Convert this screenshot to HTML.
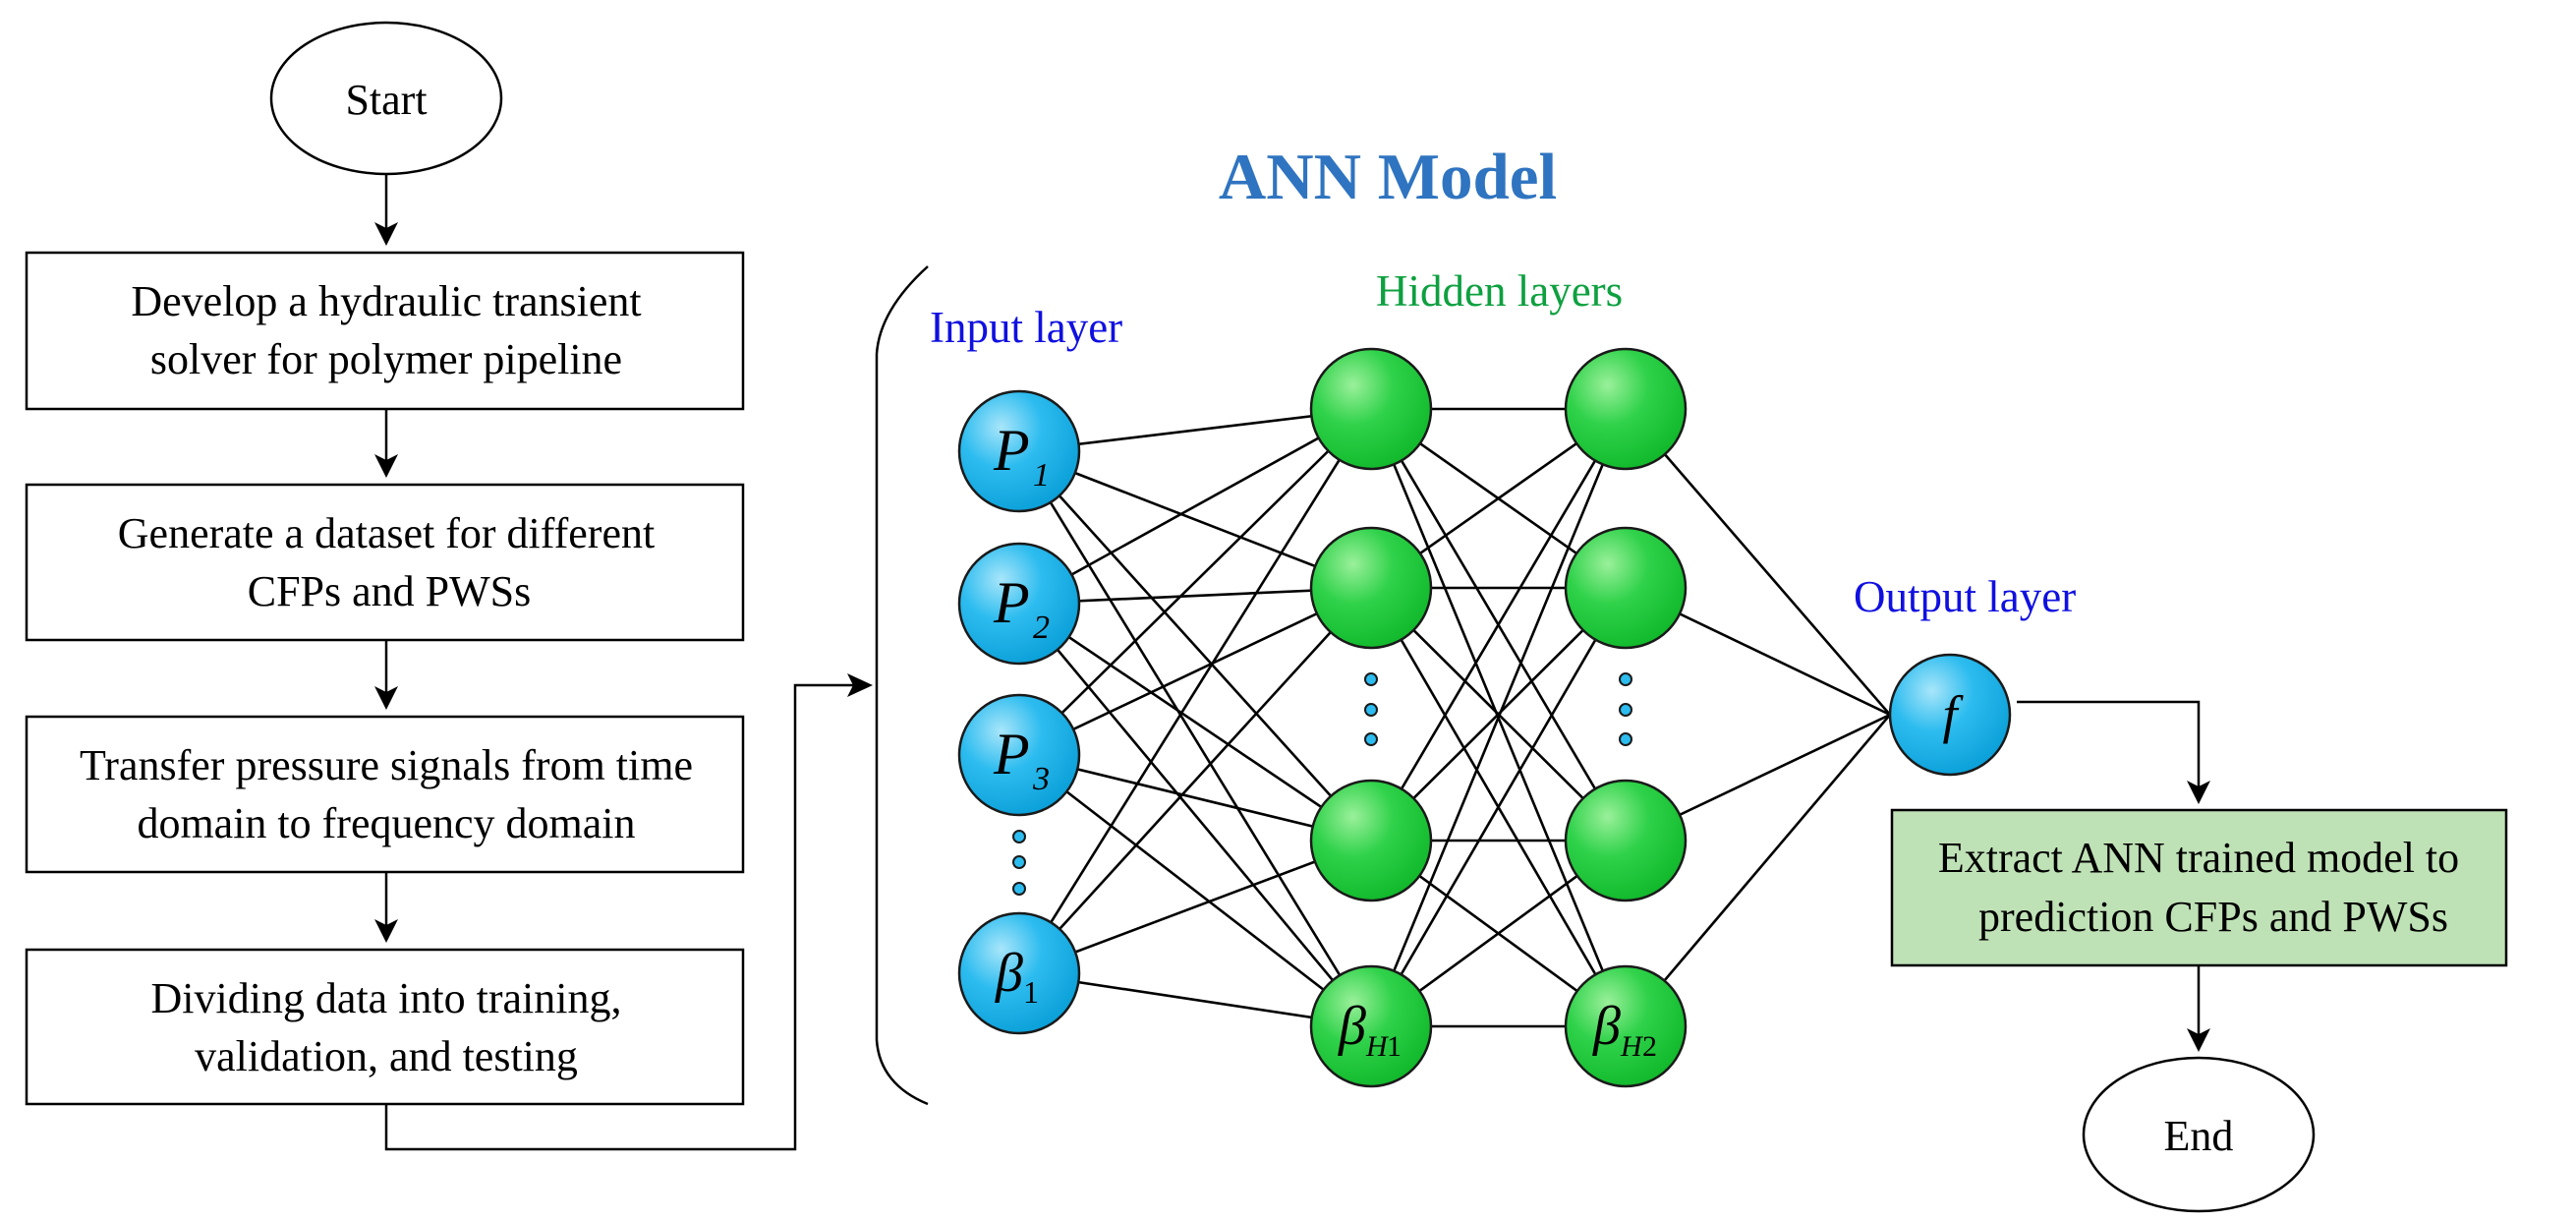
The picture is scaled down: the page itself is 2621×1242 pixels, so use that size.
<!DOCTYPE html>
<html><head><meta charset="utf-8"><style>html,body{margin:0;padding:0;background:#fff}svg{display:block}</style></head>
<body>
<svg width="2621" height="1242" viewBox="0 0 2621 1242" xmlns="http://www.w3.org/2000/svg" font-family="Liberation Serif, serif">
<defs>
<radialGradient id="bl" cx="35%" cy="30%" r="75%"><stop offset="0" stop-color="#a8e6fa"/><stop offset="0.45" stop-color="#2dbcef"/><stop offset="1" stop-color="#0a9fd8"/></radialGradient>
<radialGradient id="gr" cx="35%" cy="30%" r="75%"><stop offset="0" stop-color="#9af09a"/><stop offset="0.45" stop-color="#2fd24a"/><stop offset="1" stop-color="#10b82a"/></radialGradient>
</defs>
<g stroke="#000" stroke-width="2.5" fill="none">
<ellipse cx="393" cy="100" rx="117" ry="77" fill="#fff"/>
<rect x="27" y="257" width="729" height="159" fill="#fff"/>
<rect x="27" y="493" width="729" height="158" fill="#fff"/>
<rect x="27" y="729" width="729" height="158" fill="#fff"/>
<rect x="27" y="966" width="729" height="157" fill="#fff"/>
<rect x="1925" y="824" width="625" height="158" fill="#bfe1b6"/>
<ellipse cx="2237" cy="1154" rx="117" ry="78" fill="#fff"/>
</g>
<g stroke="#000" stroke-width="2.5" fill="none">
<line x1="393" y1="178" x2="393" y2="232"/><path d="M381,226 L393,250 L405,226 L393,232z" fill="#000" stroke="none"/>
<line x1="393" y1="416" x2="393" y2="468"/><path d="M381,462 L393,486 L405,462 L393,468z" fill="#000" stroke="none"/>
<line x1="393" y1="651" x2="393" y2="704"/><path d="M381,698 L393,722 L405,698 L393,704z" fill="#000" stroke="none"/>
<line x1="393" y1="887" x2="393" y2="941"/><path d="M381,935 L393,959 L405,935 L393,941z" fill="#000" stroke="none"/>
<polyline points="393,1123 393,1169 809,1169 809,697 868,697"/><path d="M862,685 L888,697 L862,709 L868,697z" fill="#000" stroke="none"/>
<path d="M944,271 C912,300 894,330 892,360 L892,1058 C894,1088 912,1110 944,1123"/>
<polyline points="2052,714 2237,714 2237,800"/><path d="M2225,794 L2237,818 L2249,794 L2237,800z" fill="#000" stroke="none"/>
<line x1="2237" y1="982" x2="2237" y2="1052"/><path d="M2225,1046 L2237,1070 L2249,1046 L2237,1052z" fill="#000" stroke="none"/>
</g>
<g font-size="44" text-anchor="middle" fill="#000">
<text x="393" y="116">Start</text>
<text x="393" y="321">Develop a hydraulic transient</text>
<text x="393" y="380">solver for polymer pipeline</text>
<text x="393" y="557">Generate a dataset for different</text>
<text x="396" y="616">CFPs and PWSs</text>
<text x="393" y="793">Transfer pressure signals from time</text>
<text x="393" y="852">domain to frequency domain</text>
<text x="393" y="1030">Dividing data into training,</text>
<text x="393" y="1089">validation, and testing</text>
<text x="2237" y="887">Extract ANN trained model to</text>
<text x="2252" y="947">prediction CFPs and PWSs</text>
<text x="2237" y="1170">End</text>
</g>
<text x="1412" y="202" font-size="67" font-weight="bold" fill="#2f74c0" text-anchor="middle">ANN Model</text>
<text x="946" y="348" font-size="45" fill="#1010e0">Input layer</text>
<text x="1400" y="311" font-size="45" fill="#0ea040">Hidden layers</text>
<text x="1886" y="622" font-size="45" fill="#1010e0">Output layer</text>
<g stroke="#000" stroke-width="2.6">
<line x1="1037" y1="459" x2="1395" y2="416"/><line x1="1037" y1="459" x2="1395" y2="598"/><line x1="1037" y1="459" x2="1395" y2="855"/><line x1="1037" y1="459" x2="1395" y2="1044"/>
<line x1="1037" y1="614" x2="1395" y2="416"/><line x1="1037" y1="614" x2="1395" y2="598"/><line x1="1037" y1="614" x2="1395" y2="855"/><line x1="1037" y1="614" x2="1395" y2="1044"/>
<line x1="1037" y1="768" x2="1395" y2="416"/><line x1="1037" y1="768" x2="1395" y2="598"/><line x1="1037" y1="768" x2="1395" y2="855"/><line x1="1037" y1="768" x2="1395" y2="1044"/>
<line x1="1037" y1="990" x2="1395" y2="416"/><line x1="1037" y1="990" x2="1395" y2="598"/><line x1="1037" y1="990" x2="1395" y2="855"/><line x1="1037" y1="990" x2="1395" y2="1044"/>
<line x1="1395" y1="416" x2="1654" y2="416"/><line x1="1395" y1="416" x2="1654" y2="598"/><line x1="1395" y1="416" x2="1654" y2="855"/><line x1="1395" y1="416" x2="1654" y2="1044"/>
<line x1="1395" y1="598" x2="1654" y2="416"/><line x1="1395" y1="598" x2="1654" y2="598"/><line x1="1395" y1="598" x2="1654" y2="855"/><line x1="1395" y1="598" x2="1654" y2="1044"/>
<line x1="1395" y1="855" x2="1654" y2="416"/><line x1="1395" y1="855" x2="1654" y2="598"/><line x1="1395" y1="855" x2="1654" y2="855"/><line x1="1395" y1="855" x2="1654" y2="1044"/>
<line x1="1395" y1="1044" x2="1654" y2="416"/><line x1="1395" y1="1044" x2="1654" y2="598"/><line x1="1395" y1="1044" x2="1654" y2="855"/><line x1="1395" y1="1044" x2="1654" y2="1044"/>
<line x1="1654" y1="416" x2="1923" y2="727"/><line x1="1654" y1="598" x2="1923" y2="727"/><line x1="1654" y1="855" x2="1923" y2="727"/><line x1="1654" y1="1044" x2="1923" y2="727"/>
</g>
<g stroke="#1a1a1a" stroke-width="2.5">
<circle cx="1037" cy="459" r="61" fill="url(#bl)"/>
<circle cx="1037" cy="614" r="61" fill="url(#bl)"/>
<circle cx="1037" cy="768" r="61" fill="url(#bl)"/>
<circle cx="1037" cy="990" r="61" fill="url(#bl)"/>
<circle cx="1984" cy="727" r="61" fill="url(#bl)"/>
<circle cx="1395" cy="416" r="61" fill="url(#gr)"/>
<circle cx="1395" cy="598" r="61" fill="url(#gr)"/>
<circle cx="1395" cy="855" r="61" fill="url(#gr)"/>
<circle cx="1395" cy="1044" r="61" fill="url(#gr)"/>
<circle cx="1654" cy="416" r="61" fill="url(#gr)"/>
<circle cx="1654" cy="598" r="61" fill="url(#gr)"/>
<circle cx="1654" cy="855" r="61" fill="url(#gr)"/>
<circle cx="1654" cy="1044" r="61" fill="url(#gr)"/>
</g>
<g stroke="#1a1a1a" stroke-width="2" fill="#2dbcef">
<circle cx="1037" cy="851" r="6"/><circle cx="1037" cy="877" r="6"/><circle cx="1037" cy="904" r="6"/>
<circle cx="1395" cy="691" r="6"/><circle cx="1395" cy="722" r="6"/><circle cx="1395" cy="752" r="6"/>
<circle cx="1654" cy="691" r="6"/><circle cx="1654" cy="722" r="6"/><circle cx="1654" cy="752" r="6"/>
</g>
<g font-style="italic" fill="#000">
<text x="1011" y="478" font-size="60">P</text><text x="1051" y="494" font-size="34">1</text>
<text x="1011" y="633" font-size="60">P</text><text x="1051" y="649" font-size="34">2</text>
<text x="1011" y="787" font-size="60">P</text><text x="1051" y="803" font-size="34">3</text>
<text x="1013" y="1008" font-size="56">β</text><text x="1041" y="1020" font-size="32" font-style="normal">1</text>
<text x="1362" y="1062" font-size="56">β</text><text x="1390" y="1074" font-size="30">H</text><text x="1411" y="1074" font-size="30" font-style="normal">1</text>
<text x="1621" y="1062" font-size="56">β</text><text x="1649" y="1074" font-size="30">H</text><text x="1671" y="1074" font-size="30" font-style="normal">2</text>
<text x="1984" y="745" font-size="54" text-anchor="middle">f</text>
</g>
</svg>
</body></html>
